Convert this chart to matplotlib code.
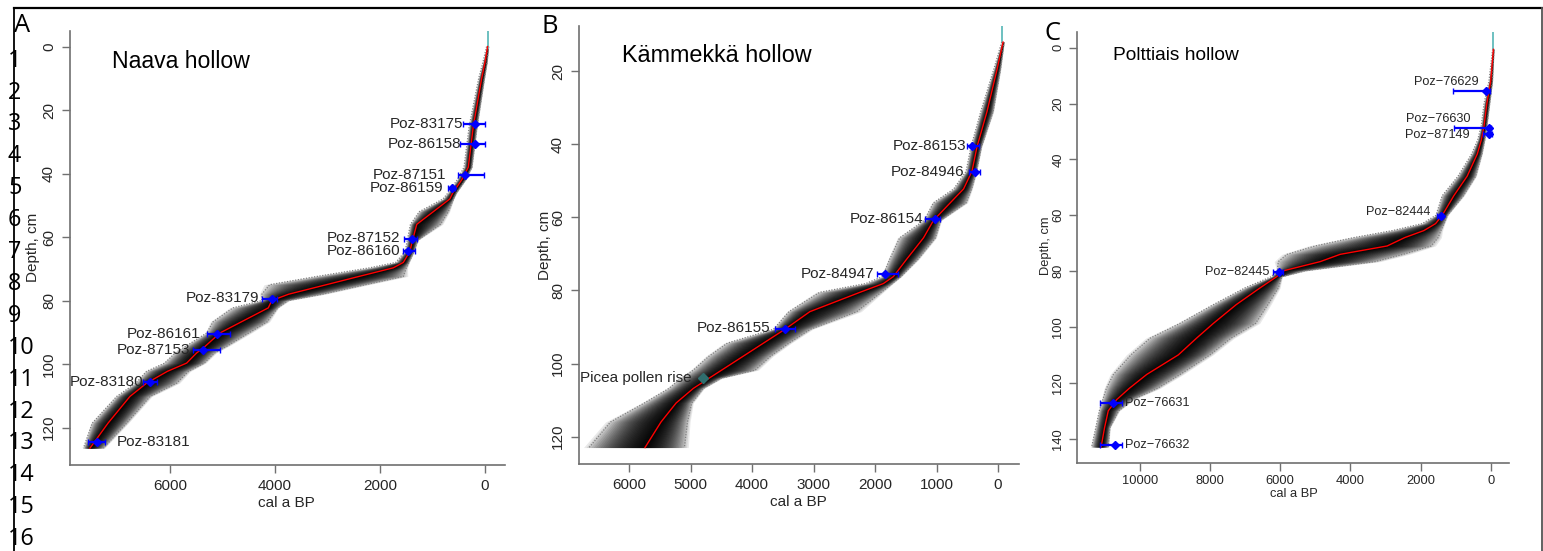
import numpy as np
import matplotlib
matplotlib.use("Agg")
import matplotlib.pyplot as plt
from matplotlib.lines import Line2D

# ---------------- data ----------------
# Panel A - Naava hollow (age-depth model: depth cm, mean / min / max cal a BP)
A_depth = [0, 5, 10, 25, 38, 42, 46, 48, 52, 56, 61, 64.5, 68, 69.7, 72.4, 75, 78, 80,
           82.3, 86.7, 90.2, 94.4, 96.5, 99.7, 102.3, 106, 110.2, 118.6, 126.5]
A_mean = [-50, 0, 63, 222, 318, 444, 610, 670, 984, 1300, 1380, 1430, 1556, 1747, 2400, 3020, 3740, 4063,
          4127, 4640, 5048, 5330, 5492, 5683, 6050, 6445, 6763, 7180, 7525]
A_min = [-70, -40, 10, 150, 250, 370, 540, 600, 700, 850, 1280, 1350, 1450, 1500, 1556, 2280, 3100, 3750,
         3950, 4150, 4500, 4921, 5150, 5350, 5650, 5873, 6380, 6826, 7271]
A_max = [-30, 40, 120, 300, 400, 530, 700, 800, 1250, 1420, 1480, 1520, 1700, 2200, 3200, 4100, 4250, 4250,
         4800, 5180, 5300, 5700, 5900, 6100, 6445, 6650, 7016, 7480, 7650]
A_surface_age = -63
A_surface_depth = [-5, 0.5]
A_labels = ["Poz-83175", "Poz-86158", "Poz-87151", "Poz-86159", "Poz-87152", "Poz-86160",
            "Poz-83179", "Poz-86161", "Poz-87153", "Poz-83180", "Poz-83181"]
A_date_depth = [24.4, 30.6, 40.6, 44.4, 60.6, 64.4, 79.4, 90.6, 95.6, 105.6, 124.4]
A_date_age = [190, 190, 381, 635, 1397, 1460, 4063, 5111, 5365, 6381, 7397]
A_date_young = [0, 0, 20, 571, 1289, 1330, 3968, 4857, 5048, 6254, 7238]
A_date_old = [419, 480, 514, 700, 1543, 1560, 4254, 5302, 5556, 6508, 7556]
A_label_age = [419, 457, 730, 800, 1606, 1606, 4298, 5429, 5606, 6508, 7016]
A_label_depth = [24.4, 30.6, 40.6, 44.7, 60.3, 64.5, 79.3, 90.6, 95.6, 105.6, 124.4]
A_label_side = ["L", "L", "L", "L", "L", "L", "L", "L", "L", "L", "R"]

# Panel B - Kammekka hollow
B_depth = [12, 19.5, 31, 40.7, 47.4, 49.3, 52.2, 56, 60.8, 65.6, 71.4, 76.2, 78.1, 80.5, 85.8,
           90.6, 94.4, 98, 101.8, 104, 106.8, 110.8, 116, 123]
B_mean = [-82, 16, 179, 342, 424, 478, 560, 777, 1049, 1212, 1484, 1701, 1864, 2245, 3060,
          3463, 3813, 4144, 4494, 4697, 4954, 5234, 5480, 5740]
B_min = [-100, -40, 80, 270, 350, 380, 430, 520, 930, 1020, 1300, 1580, 1720, 1900, 2300,
         3050, 3400, 3700, 3950, 4500, 4792, 4980, 5050, 5100]
B_max = [-60, 70, 280, 440, 520, 600, 720, 1050, 1200, 1600, 1760, 1880, 2150, 2900, 3400,
         3650, 4400, 4700, 4954, 5150, 5350, 5750, 6300, 6650]
B_surface_age = -65
B_surface_depth = [7.5, 11.8]
B_labels = ["Poz-86153", "Poz-84946", "Poz-86154", "Poz-84947", "Poz-86155"]
B_date_depth = [40.5, 47.6, 60.3, 75.4, 90.6]
B_date_age = [424, 370, 1022, 1837, 3463]
B_date_young = [315, 288, 940, 1620, 3301]
B_date_old = [505, 478, 1185, 1973, 3626]
B_label_age = [516, 549, 1212, 2016, 3707]
B_label_depth = [40.5, 47.6, 60.3, 75.4, 90.4]
B_label_side = ["L", "L", "L", "L", "L"]
B_event_label = "Picea pollen rise"
B_event_depth = 104.0
B_event_age = 4792
B_event_label_age = 4981

# Panel C - Polttiais hollow
C_depth = [0.6, 12, 20, 28, 33, 38, 46, 53, 60, 63, 65.5, 68, 71, 74, 76.6, 79.9, 82, 86,
           92, 98.7, 104, 110, 117, 122, 126, 130, 136, 143]
C_mean = [-76, 0, 110, 190, 267, 380, 670, 1050, 1380, 1570, 1905, 2450, 2950, 4290, 4857, 5909, 6097, 6570,
          7250, 7900, 8380, 8900, 9800, 10300, 10655, 10895, 11000, 11100]
C_min = [-95, -50, 30, 110, 170, 250, 430, 780, 1230, 1330, 1420, 1500, 1700, 2500, 3300, 5300, 5950, 6050,
         6350, 6700, 7400, 8000, 8850, 9500, 10200, 10600, 10850, 10900]
C_max = [-55, 50, 190, 270, 370, 540, 930, 1380, 1560, 1950, 2800, 3900, 5000, 5800, 6050, 6080, 6250, 7000,
         7900, 8850, 9700, 10250, 10750, 10950, 11050, 11150, 11250, 11370]
C_surface_age = -76
C_surface_depth = [-5.6, 0.6]
C_labels = ["Poz\u221276629", "Poz\u221276630", "Poz\u221287149", "Poz\u221282444",
            "Poz\u221282445", "Poz\u221276631", "Poz\u221276632"]
C_date_depth = [15.6, 28.6, 30.8, 60.3, 80.3, 127.3, 142.2]
C_date_age = [120, 60, 60, 1425, 6031, 10752, 10704]
C_date_young = [20, -10, -28, 1350, 5909, 10514, 10514]
C_date_old = [1065, 1045, 211, 1539, 6193, 11131, 11131]
C_label_age = [353, 570, 590, 1709, 6288, 10419, 10419]
C_label_depth = [12.3, 25.4, 31.4, 59.0, 80.3, 127.3, 142.2]
C_label_side = ["L", "L", "L", "L", "L", "R", "R"]

line_numbers = list(range(1, 17))

# ---------------- style / layout ----------------
W, H = 1543, 551
fig = plt.figure(figsize=(W / 100, H / 100), dpi=100)
SANS = "Liberation Sans"
SPINE = "#707070"
TXT = "#262626"


def px_rect(left, top, right, bottom):
    return [left / W, 1 - bottom / H, (right - left) / W, (bottom - top) / H]


def panel(rect, xlim, ylim, xticks, yticks, depth, mean, lo, hi, surf_age, surf_depth,
          labels, d_depth, d_age, d_young, d_old, lab_age, lab_depth, lab_side,
          title, title_pos, title_fs, fs, label_fs, xlab_pos, ylab_pos, tick_pad):
    ax = fig.add_axes(rect)
    depth = np.asarray(depth, float)
    mean = np.asarray(mean, float)
    lo = np.asarray(lo, float)
    hi = np.asarray(hi, float)
    # grey probability cloud: stacked translucent envelopes, denser towards the mean
    for t in np.linspace(0.12, 1.0, 34):
        f = 1.1 * t ** 1.5
        ax.fill_betweenx(depth, mean - f * (mean - lo), mean + f * (hi - mean),
                         color="black", alpha=0.085, lw=0, zorder=1)
    ax.plot(lo, depth, ls=(0, (1, 1.2)), color="#808080", lw=0.9, zorder=2)
    ax.plot(hi, depth, ls=(0, (1, 1.2)), color="#808080", lw=0.9, zorder=2)
    ax.plot(mean, depth, color="red", lw=1.0, zorder=4)
    ax.plot([surf_age, surf_age], surf_depth, color="#6cc0c0", lw=1.4, zorder=3)
    # dated samples
    for i, lab in enumerate(labels):
        a = d_age[i]
        ax.errorbar([a], [d_depth[i]], xerr=[[a - d_young[i]], [d_old[i] - a]],
                    fmt="D", color="blue", ms=4.5, capsize=2.5, lw=1.6, zorder=5)
        ax.text(lab_age[i], lab_depth[i], lab, ha="right" if lab_side[i] == "L" else "left",
                va="center", fontsize=label_fs, family=SANS, color=TXT, zorder=6)
    ax.set_xlim(*xlim)
    ax.set_ylim(*ylim)
    ax.set_xticks(xticks)
    ax.set_yticks(yticks)
    for s in ["top", "right"]:
        ax.spines[s].set_visible(False)
    for s in ["left", "bottom"]:
        ax.spines[s].set_color(SPINE)
        ax.spines[s].set_linewidth(1.2)
    ax.tick_params(direction="out", length=6, width=1.0, color=SPINE, labelsize=fs,
                   labelcolor=TXT, pad=tick_pad)
    for t in ax.get_yticklabels():
        t.set_rotation(90)
        t.set_va("center")
    for t in ax.get_xticklabels() + ax.get_yticklabels():
        t.set_family(SANS)
    ax.text(title_pos[0], title_pos[1], title, transform=ax.transAxes, ha="left", va="center",
            fontsize=title_fs, family=SANS, color="black")
    ax.text(xlab_pos[0], xlab_pos[1], "cal a BP", transform=ax.transAxes, ha="center",
            va="center", fontsize=fs, family=SANS, color=TXT)
    ax.text(ylab_pos[0], ylab_pos[1], "Depth, cm", transform=ax.transAxes, ha="center",
            va="center", rotation=90, fontsize=fs, family=SANS, color=TXT)
    return ax


axA = panel(px_rect(70, 31, 505, 465), (7905, -381), (131.8, -4.9),
            [0, 2000, 4000, 6000], list(range(0, 121, 20)),
            A_depth, A_mean, A_min, A_max, A_surface_age, A_surface_depth,
            A_labels, A_date_depth, A_date_age, A_date_young, A_date_old,
            A_label_age, A_label_depth, A_label_side,
            "Naava hollow", (0.097, 0.930), 16.6, 11, 11,
            (0.498, -0.088), (-0.085, 0.502), 4)

axB = panel(px_rect(579, 26, 1019, 464), (6813, -341), (127.5, 7.6),
            list(range(0, 6001, 1000)), list(range(20, 121, 20)),
            B_depth, B_mean, B_min, B_max, B_surface_age, B_surface_depth,
            B_labels, B_date_depth, B_date_age, B_date_young, B_date_old,
            B_label_age, B_label_depth, B_label_side,
            "Kämmekkä hollow", (0.098, 0.932), 16.8, 11, 11,
            (0.498, -0.087), (-0.077, 0.50), 4)
axB.plot([B_event_age], [B_event_depth], marker="D", color="#2f6e6e", ms=5.5, zorder=6)
axB.text(B_event_label_age, B_event_depth, B_event_label, ha="right", va="center",
         fontsize=11, family=SANS, color=TXT, zorder=6)

axC = panel(px_rect(1077, 32, 1509, 463), (11786, -521), (148.7, -5.6),
            list(range(0, 10001, 2000)), list(range(0, 141, 20)),
            C_depth, C_mean, C_min, C_max, C_surface_age, C_surface_depth,
            C_labels, C_date_depth, C_date_age, C_date_young, C_date_old,
            C_label_age, C_label_depth, C_label_side,
            "Polttiais hollow", (0.083, 0.945), 13.8, 9.3, 9.2,
            (0.502, -0.073), (-0.072, 0.503), 3)

# ---------------- page decorations ----------------
fig.add_artist(Line2D([14 / W, 1542 / W], [1 - 8 / H, 1 - 8 / H], color="black", lw=1.6))
fig.add_artist(Line2D([14 / W, 14 / W], [0, 1 - 8 / H], color="black", lw=1.3))
fig.add_artist(Line2D([1542 / W, 1542 / W], [0, 1 - 8 / H], color="#555555", lw=1.3))

for letter, (lx, ly) in zip(["A", "B", "C"], [(14, 31.7), (541, 33.3), (1044, 40)]):
    fig.text(lx / W, 1 - ly / H, letter, ha="left", va="baseline", fontsize=18.4,
             family="Open Sans", color="black")

for i, n in enumerate(line_numbers):
    fig.text(8 / W, 1 - (66.7 + 31.9 * i) / H, str(n), ha="left", va="baseline",
             fontsize=16.8, family="Open Sans", color="black")

fig.savefig("out.png", dpi=100)
